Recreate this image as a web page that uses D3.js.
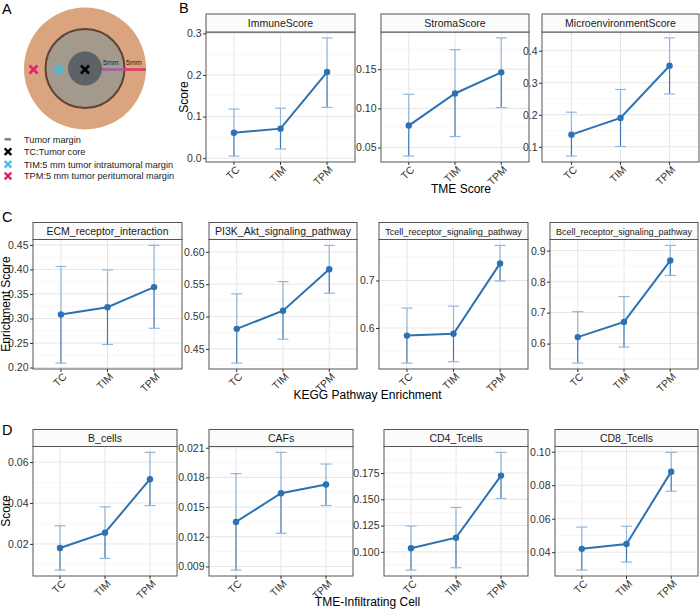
<!DOCTYPE html>
<html>
<head>
<meta charset="utf-8">
<script src="https://cdn.jsdelivr.net/npm/d3@7"></script>
<style>
  body { margin: 0; background: #fff; }
  text { font-family: "Liberation Sans", Arial, sans-serif; }
</style>
</head>
<body>
<div id="chart"></div>
<script>
var groups = ["TC", "TIM", "TPM"];

// B: TME score
var tmeNames = ["ImmuneScore", "StromaScore", "MicroenvironmentScore"];
var tmeMean = [[0.061, 0.071, 0.207], [0.078, 0.119, 0.146], [0.138, 0.190, 0.353]];
var tmeLow  = [[0.005, 0.022, 0.122], [0.039, 0.064, 0.101], [0.071, 0.101, 0.265]];
var tmeHigh = [[0.118, 0.120, 0.289], [0.118, 0.175, 0.190], [0.208, 0.279, 0.440]];
var tmeTicks = [["0.0", "0.1", "0.2", "0.3"], ["0.05", "0.10", "0.15"], ["0.1", "0.2", "0.3", "0.4"]];

// C: KEGG pathway enrichment
var keggNames = ["ECM_receptor_interaction", "PI3K_Akt_signaling_pathway", "Tcell_receptor_signaling_pathway", "Bcell_receptor_signaling_pathway"];
var keggMean = [[0.308, 0.323, 0.364], [0.481, 0.509, 0.573], [0.584, 0.588, 0.736], [0.621, 0.670, 0.868]];
var keggLow  = [[0.209, 0.247, 0.280], [0.428, 0.465, 0.536], [0.526, 0.529, 0.699], [0.537, 0.589, 0.820]];
var keggHigh = [[0.406, 0.399, 0.449], [0.535, 0.554, 0.610], [0.642, 0.646, 0.774], [0.703, 0.752, 0.917]];
var keggTicks = [["0.20", "0.25", "0.30", "0.35", "0.40", "0.45"], ["0.45", "0.50", "0.55", "0.60"], ["0.6", "0.7"], ["0.6", "0.7", "0.8", "0.9"]];

// D: TME-infiltrating cells
var cellNames = ["B_cells", "CAFs", "CD4_Tcells", "CD8_Tcells"];
var cellMean = [[0.0180, 0.0255, 0.0516], [0.01350, 0.01640, 0.01728], [0.1034, 0.1135, 0.1725], [0.0420, 0.0449, 0.0881]];
var cellLow  = [[0.0072, 0.0129, 0.0387], [0.00863, 0.01235, 0.01516], [0.0826, 0.0849, 0.1507], [0.0293, 0.0341, 0.0764]];
var cellHigh = [[0.0289, 0.0381, 0.0647], [0.01838, 0.02053, 0.01935], [0.1246, 0.1422, 0.1946], [0.0550, 0.0555, 0.0996]];
var cellTicks = [["0.02", "0.04", "0.06"], ["0.009", "0.012", "0.015", "0.018", "0.021"], ["0.100", "0.125", "0.150", "0.175"], ["0.04", "0.06", "0.08", "0.10"]];

// A: legend
var legendLabels = ["Tumor margin", "TC:Tumor core", "TIM:5 mm tumor intratumoral margin", "TPM:5 mm tumor peritumoral margin"];
var legendColors = ["#808080", "#000000", "#45bde8", "#e2236d"];

var lineColor = "#2c72b2";
var barDark = "#3d79b6";
var barLight = "#93b6db";

var svg = d3.select("#chart")
  .append("svg")
  .attr("width", 700)
  .attr("height", 610);

function drawPanel(box, name, mean, low, high, tickLabels) {
  var g = svg.append("g");
  var w = box.x1 - box.x0;

  var lo = d3.min(low), hi = d3.max(high);
  var pad = (hi - lo) * 0.05;
  var y = d3.scaleLinear().domain([lo - pad, hi + pad]).range([box.bottom, box.top]);
  var x = d3.scalePoint().domain(groups).range([box.x0, box.x1]).padding(0.6);

  var ticks = tickLabels.map(d => +d);
  var step = ticks[1] - ticks[0];
  var minors = [ticks[0] - step / 2].concat(ticks.map(t => t + step / 2))
    .filter(t => t > y.domain()[0] && t < y.domain()[1]);

  // grid
  g.selectAll(".minor").data(minors).enter().append("line")
    .attr("x1", box.x0).attr("x2", box.x1)
    .attr("y1", d => y(d)).attr("y2", d => y(d))
    .attr("stroke", "#f2f2f2").attr("stroke-width", 0.6);
  g.selectAll(".major").data(ticks).enter().append("line")
    .attr("x1", box.x0).attr("x2", box.x1)
    .attr("y1", d => y(d)).attr("y2", d => y(d))
    .attr("stroke", "#e6e6e6").attr("stroke-width", 1);
  g.selectAll(".vgrid").data(groups).enter().append("line")
    .attr("x1", d => x(d)).attr("x2", d => x(d))
    .attr("y1", box.top).attr("y2", box.bottom)
    .attr("stroke", "#e6e6e6").attr("stroke-width", 1);

  var rows = groups.map((k, i) => ({ k: k, m: mean[i], lo: low[i], hi: high[i] }));

  // error bars: lower half dark, upper half light
  var eb = g.selectAll(".eb").data(rows).enter().append("g");
  eb.append("line")
    .attr("x1", d => x(d.k)).attr("x2", d => x(d.k))
    .attr("y1", d => y(d.m)).attr("y2", d => y(d.hi))
    .attr("stroke", barLight).attr("stroke-width", 1.2);
  eb.append("line")
    .attr("x1", d => x(d.k) - 5.5).attr("x2", d => x(d.k) + 5.5)
    .attr("y1", d => y(d.hi)).attr("y2", d => y(d.hi))
    .attr("stroke", barLight).attr("stroke-width", 1.2);
  eb.append("line")
    .attr("x1", d => x(d.k)).attr("x2", d => x(d.k))
    .attr("y1", d => y(d.m)).attr("y2", d => y(d.lo))
    .attr("stroke", barDark).attr("stroke-width", 1.2);
  eb.append("line")
    .attr("x1", d => x(d.k) - 5.5).attr("x2", d => x(d.k) + 5.5)
    .attr("y1", d => y(d.lo)).attr("y2", d => y(d.lo))
    .attr("stroke", barLight).attr("stroke-width", 1.2);

  g.append("path")
    .datum(rows)
    .attr("fill", "none")
    .attr("stroke", lineColor)
    .attr("stroke-width", 2)
    .attr("d", d3.line().x(d => x(d.k)).y(d => y(d.m)));

  g.selectAll(".pt").data(rows).enter().append("circle")
    .attr("cx", d => x(d.k)).attr("cy", d => y(d.m))
    .attr("r", 3.2).attr("fill", lineColor);

  // border + strip
  g.append("rect")
    .attr("x", box.x0).attr("y", box.top)
    .attr("width", w).attr("height", box.bottom - box.top)
    .attr("fill", "none").attr("stroke", "#555").attr("stroke-width", 1);
  g.append("rect")
    .attr("x", box.x0).attr("y", box.strip)
    .attr("width", w).attr("height", box.top - box.strip)
    .attr("fill", "#fbfbfb").attr("stroke", "#555").attr("stroke-width", 1);
  var st = g.append("text")
    .attr("x", (box.x0 + box.x1) / 2)
    .attr("y", (box.strip + box.top) / 2 + 3.6)
    .attr("text-anchor", "middle")
    .style("font-size", "10.5px")
    .style("fill", "#1a1a1a")
    .text(name);
  // long strip labels are shrunk to fit the strip
  var len = st.node().getComputedTextLength();
  if (len > w - 12) st.style("font-size", (10.5 * (w - 12) / len) + "px");

  // y axis
  var leftAxis = d3.axisLeft(y).tickValues(ticks).tickSize(3).tickFormat((d, i) => tickLabels[i]);
  var ya = g.append("g")
    .attr("transform", `translate(${box.x0}, 0)`)
    .call(leftAxis);
  ya.select(".domain").remove();
  ya.selectAll(".tick line").attr("stroke", "#333");
  ya.selectAll(".tick text")
    .attr("x", -4.5)
    .style("font-size", "10.5px")
    .style("fill", "#333")
    .style("font-family", "'Liberation Sans', Arial, sans-serif");

  // x ticks + rotated labels
  g.selectAll(".xt").data(groups).enter().append("line")
    .attr("x1", d => x(d)).attr("x2", d => x(d))
    .attr("y1", box.bottom).attr("y2", box.bottom + 3)
    .attr("stroke", "#333");
  g.selectAll(".xl").data(groups).enter().append("text")
    .attr("transform", d => `translate(${x(d) + 1}, ${box.bottom + 3}) rotate(-45)`)
    .attr("text-anchor", "end")
    .attr("dy", "0.72em")
    .style("font-size", "10.5px")
    .style("fill", "#333")
    .text(d => d);
}

// panel layouts
var rowB = { strip: 14, top: 32, bottom: 162 };
var xsB = [[206, 355], [381, 529], [542, 699]];
var rowC = { strip: 222.5, top: 239.5, bottom: 369 };
var xsC = [[33, 182], [209, 357], [379, 528], [550, 698]];
var rowD = { strip: 429.5, top: 446.5, bottom: 576 };
var xsD = [[33, 177], [209, 353], [384, 528], [555, 698]];

tmeNames.forEach(function(n, i) {
  drawPanel(Object.assign({ x0: xsB[i][0], x1: xsB[i][1] }, rowB), n, tmeMean[i], tmeLow[i], tmeHigh[i], tmeTicks[i]);
});
keggNames.forEach(function(n, i) {
  drawPanel(Object.assign({ x0: xsC[i][0], x1: xsC[i][1] }, rowC), n, keggMean[i], keggLow[i], keggHigh[i], keggTicks[i]);
});
cellNames.forEach(function(n, i) {
  drawPanel(Object.assign({ x0: xsD[i][0], x1: xsD[i][1] }, rowD), n, cellMean[i], cellLow[i], cellHigh[i], cellTicks[i]);
});

// axis titles
function title(x, y, rot, s) {
  svg.append("text")
    .attr("transform", `translate(${x}, ${y}) rotate(${rot})`)
    .attr("text-anchor", "middle")
    .style("font-size", "12px")
    .style("fill", "#000")
    .text(s);
}
title(187.5, 97, -90, "Score");
title(461, 193, 0, "TME Score");
title(9.8, 304, -90, "Enrichment Score");
title(367.5, 399, 0, "KEGG Pathway Enrichment");
title(9.8, 511, -90, "Score");
title(367.5, 606, 0, "TME-Infiltrating Cell");

// panel letters
[["A", 2, 13.5], ["B", 179, 12.5], ["C", 2, 221.5], ["D", 2, 435]].forEach(function(l) {
  svg.append("text")
    .attr("x", l[1]).attr("y", l[2])
    .style("font-size", "14.5px")
    .text(l[0]);
});

// A: schematic of sampling regions
var cx = 85, cy = 68.5;
svg.append("circle").attr("cx", cx).attr("cy", cy).attr("r", 61).attr("fill", "#d9a47e");
svg.append("circle").attr("cx", cx).attr("cy", cy).attr("r", 39.5)
  .attr("fill", "#a39a8d").attr("stroke", "#5b4436").attr("stroke-width", 2);
svg.append("circle").attr("cx", cx).attr("cy", cy).attr("r", 17).attr("fill", "#5c6265");
svg.append("line").attr("x1", cx + 17).attr("x2", cx + 39).attr("y1", cy + 1).attr("y2", cy + 1)
  .attr("stroke", "#a35ca6").attr("stroke-width", 2.5);
svg.append("line").attr("x1", cx + 39).attr("x2", cx + 61).attr("y1", cy + 1).attr("y2", cy + 1)
  .attr("stroke", "#e8336a").attr("stroke-width", 2.5);
svg.append("text").attr("x", cx + 18).attr("y", cy - 3.5).style("font-size", "7px").style("fill", "#222").text("5mm");
svg.append("text").attr("x", cx + 41).attr("y", cy - 3.5).style("font-size", "7px").style("fill", "#222").text("5mm");

function cross(x, y, r, color, sw) {
  svg.append("path")
    .attr("d", `M${x - r},${y - r}L${x + r},${y + r}M${x - r},${y + r}L${x + r},${y - r}`)
    .attr("stroke", color).attr("stroke-width", sw).attr("fill", "none");
}
cross(cx, cy + 1, 4, legendColors[1], 2.6);
cross(59, cy + 1, 4, legendColors[2], 2.6);
cross(33.5, cy + 1, 4, legendColors[3], 2.6);

// A: legend
var legendY = [139.3, 151.7, 164.3, 176];
legendLabels.forEach(function(s, i) {
  if (i === 0) {
    svg.append("line").attr("x1", 4.5).attr("x2", 11).attr("y1", legendY[i]).attr("y2", legendY[i])
      .attr("stroke", legendColors[i]).attr("stroke-width", 2.5);
  } else {
    cross(8, legendY[i], 3.3, legendColors[i], 2.4);
  }
  svg.append("text")
    .attr("x", 24).attr("y", legendY[i] + 3.3)
    .style("font-size", "9.2px")
    .style("fill", "#222")
    .text(s);
});
</script>
</body>
</html>
